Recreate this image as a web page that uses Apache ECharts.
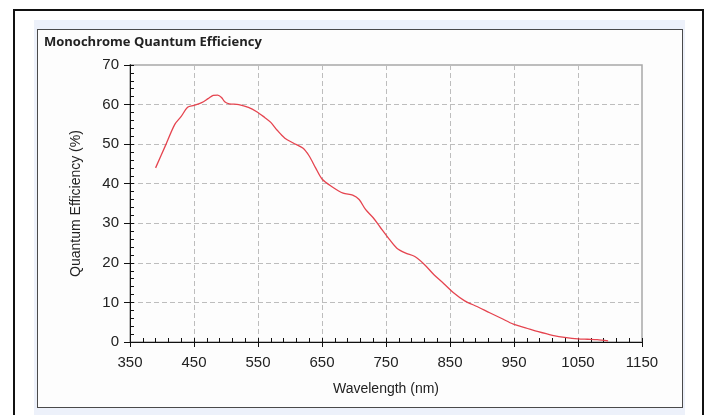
<!DOCTYPE html>
<html>
<head>
<meta charset="utf-8">
<script src="https://cdn.jsdelivr.net/npm/echarts@6/dist/echarts.min.js"></script>
<style>
  html, body { margin:0; padding:0; background:#fff; }
  #wrap { position:relative; width:707px; height:415px; overflow:hidden; }
  #outer { position:absolute; left:13px; top:9px; width:691px; height:430px; border:2px solid #111; box-sizing:border-box; }
  #band { position:absolute; left:34px; top:20px; width:651px; height:400px; background:#edf1fa; }
  #panel { position:absolute; left:37px; top:29px; width:646px; height:379px; background:#fdfdfd; border:1px solid #4a4a4a; box-sizing:border-box; }
  #chart { position:absolute; left:0; top:0; width:707px; height:415px; }
</style>
</head>
<body>
<div id="wrap">
  <div id="outer"></div>
  <div id="band"></div>
  <div id="panel"></div>
  <div id="chart"></div>
</div>
<script>
const chartTitle = 'Monochrome Quantum Efficiency';
const xAxisName = 'Wavelength (nm)';
const yAxisName = 'Quantum Efficiency (%)';
const wavelength = [390,405,420,430,440,450,462,472,480,487,493,498,505,520,535,548,560,570,580,592,605,620,630,640,650,665,683,698,708,718,730,741,755,767,780,795,810,825,840,855,873,893,912,930,949,968,988,1010,1032,1050,1065,1080,1097];
const efficiency = [44.0,49.5,55.0,57.0,59.3,59.8,60.5,61.5,62.3,62.4,61.8,60.7,60.2,60.0,59.3,58.2,56.8,55.5,53.5,51.5,50.3,49.0,47.0,44.0,41.2,39.3,37.6,37.1,36.0,33.5,31.4,29.0,26.0,23.7,22.5,21.6,19.6,17.0,14.8,12.5,10.4,8.9,7.4,6.0,4.5,3.6,2.6,1.7,1.1,0.8,0.7,0.6,0.3];

const points = wavelength.map((w, i) => [w, efficiency[i]]);
const chart = echarts.init(document.getElementById('chart'), null, {renderer:'canvas'});
const fam = 'Liberation Sans, Arial, sans-serif';
const tickFont = { color:'#222', fontSize:15, fontFamily:fam };
const nameFont = { color:'#222', fontSize:14, fontFamily:fam };
const plain = v => String(v);
const xMin = 350, xMax = 1150, xInt = 100;
const yMin = 0, yMax = 70, yInt = 10;

chart.setOption({
  backgroundColor:'transparent',
  animation:false,
  title:{
    text: chartTitle, left:44, top:36, padding:0,
    textStyle:{ fontFamily:'Open Sans, sans-serif', fontWeight:'bold', fontSize:13, color:'#222' }
  },
  grid:{ left:130, right:65, top:65, bottom:73, show:true, borderColor:'#a8a8a8', borderWidth:1.5, backgroundColor:'transparent' },
  xAxis:[{
    type:'value', min:xMin, max:xMax, interval:xInt, position:'bottom',
    name:xAxisName, nameLocation:'middle', nameGap:40,
    nameTextStyle:nameFont,
    axisLine:{ show:true, lineStyle:{ color:'#111', width:1 } },
    axisTick:{ show:true, inside:false, length:5, lineStyle:{ color:'#111' } },
    axisLabel:Object.assign({ margin:13, formatter:plain }, tickFont),
    splitLine:{ show:true, lineStyle:{ color:'#bdbdbd', type:[5,3], width:1 } }
  },{
    type:'value', min:xMin, max:xMax, interval:xInt, position:'bottom',
    axisLine:{ show:true, lineStyle:{ color:'#111', width:1 } },
    axisTick:{ show:true, inside:true, length:4, lineStyle:{ color:'#111' } },
    minorTick:{ show:true, splitNumber:5, length:4, lineStyle:{ color:'#111' } },
    axisLabel:{ show:false }, splitLine:{ show:false }
  }],
  yAxis:[{
    type:'value', min:yMin, max:yMax, interval:yInt, position:'left',
    name:yAxisName, nameLocation:'middle', nameGap:47, nameRotate:90,
    nameTextStyle:nameFont,
    axisLine:{ show:true, lineStyle:{ color:'#111', width:1 } },
    axisTick:{ show:true, inside:false, length:6, lineStyle:{ color:'#111' } },
    axisLabel:Object.assign({ margin:11, formatter:plain }, tickFont),
    splitLine:{ show:true, lineStyle:{ color:'#bdbdbd', type:[5,3], width:1 } }
  },{
    type:'value', min:yMin, max:yMax, interval:yInt, position:'left',
    axisLine:{ show:true, lineStyle:{ color:'#111', width:1 } },
    axisTick:{ show:true, inside:true, length:4, lineStyle:{ color:'#111' } },
    minorTick:{ show:true, splitNumber:5, length:4, lineStyle:{ color:'#111' } },
    axisLabel:{ show:false }, splitLine:{ show:false }
  }],
  series:[{
    type:'line', xAxisIndex:0, yAxisIndex:0,
    data: points, smooth:0.3, showSymbol:false,
    lineStyle:{ color:'#e5444f', width:1.3 }
  }]
});
</script>
</body>
</html>
